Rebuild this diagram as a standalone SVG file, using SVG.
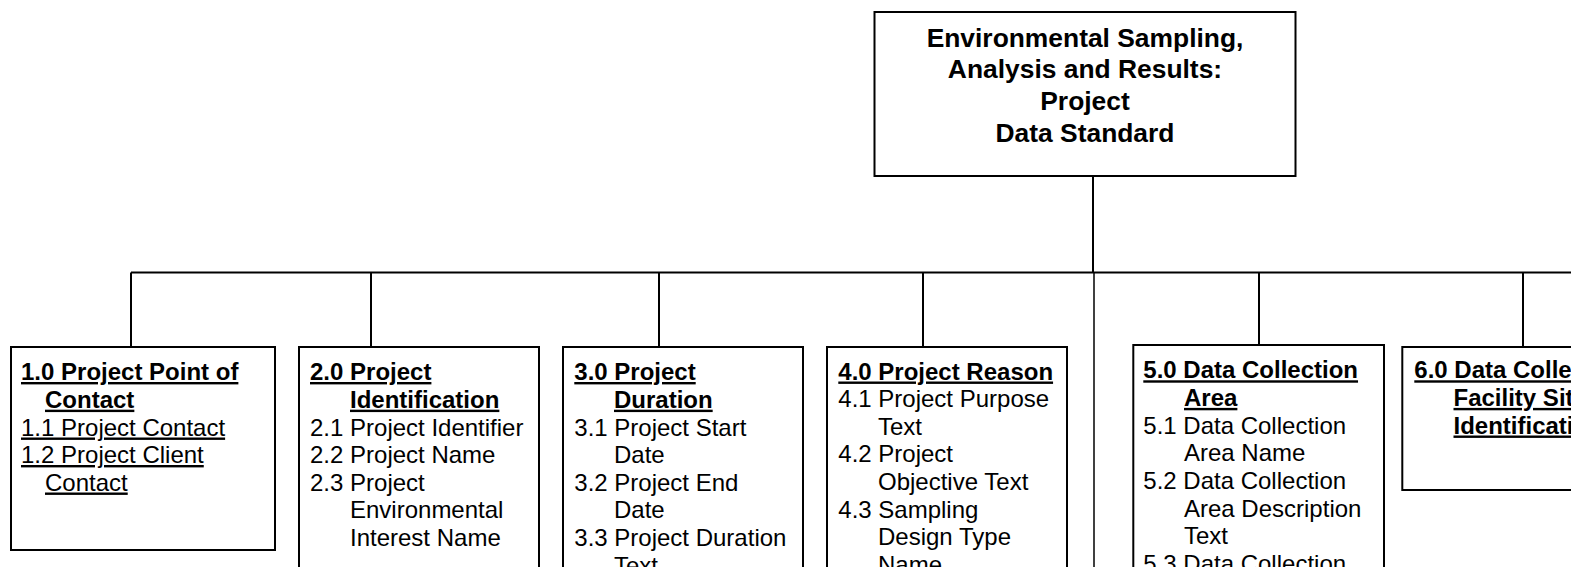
<svg xmlns="http://www.w3.org/2000/svg" width="1571" height="567" viewBox="0 0 1571 567">
<style>
.box{fill:#fff;stroke:#000;stroke-width:2}
.c{stroke:#000;stroke-width:2;fill:none}
.t{font-family:"Liberation Sans",Arial,sans-serif;font-size:24px;fill:#000}
.b{font-weight:bold}
.u{text-decoration:underline}
.title{font-family:"Liberation Sans",Arial,sans-serif;font-size:26.4px;font-weight:bold;fill:#000;text-anchor:middle}
</style>
<rect width="1571" height="567" fill="#fff"/>
<g id="connectors">
<line class="c" x1="1093" y1="176" x2="1093" y2="272.5"/>
<line class="c" x1="131" y1="272.5" x2="1571" y2="272.5"/>
<line class="c" x1="131" y1="272.5" x2="131" y2="347"/>
<line class="c" x1="371" y1="272.5" x2="371" y2="347"/>
<line class="c" x1="659" y1="272.5" x2="659" y2="347"/>
<line class="c" x1="923" y1="272.5" x2="923" y2="347"/>
<line class="c" x1="1259" y1="272.5" x2="1259" y2="345"/>
<line class="c" x1="1523" y1="272.5" x2="1523" y2="347"/>
<line x1="1094" y1="272.5" x2="1094" y2="567" stroke="#000" stroke-width="1.5"/>
</g>
<g id="root">
<rect class="box" x="874.5" y="12" width="421" height="164"/>
<text class="title" x="1085" y="46.7">Environmental Sampling,</text>
<text class="title" x="1085" y="78">Analysis and Results:</text>
<text class="title" x="1085" y="110">Project</text>
<text class="title" x="1085" y="141.7">Data Standard</text>
</g>
<g id="node1">
<rect class="box" x="11" y="347" width="264" height="203"/>
<text class="t b u" x="21" y="380">1.0 Project Point of</text>
<text class="t b u" x="45" y="407.7">Contact</text>
<text class="t u" x="21" y="435.5">1.1 Project Contact</text>
<text class="t u" x="21" y="463">1.2 Project Client</text>
<text class="t u" x="45" y="490.5">Contact</text>
</g>
<g id="node2">
<rect class="box" x="299" y="347" width="240" height="260"/>
<text class="t b u" x="310" y="380">2.0 Project</text>
<text class="t b u" x="350" y="407.7">Identification</text>
<text class="t" x="310" y="435.5">2.1 Project Identifier</text>
<text class="t" x="310" y="463">2.2 Project Name</text>
<text class="t" x="310" y="490.7">2.3 Project</text>
<text class="t" x="350" y="518.2">Environmental</text>
<text class="t" x="350" y="546">Interest Name</text>
</g>
<g id="node3">
<rect class="box" x="563" y="347" width="240" height="260"/>
<text class="t b u" x="574.3" y="380">3.0 Project</text>
<text class="t b u" x="614" y="407.7">Duration</text>
<text class="t" x="574.3" y="435.5">3.1 Project Start</text>
<text class="t" x="614" y="463">Date</text>
<text class="t" x="574.3" y="490.7">3.2 Project End</text>
<text class="t" x="614" y="518.2">Date</text>
<text class="t" x="574.3" y="546">3.3 Project Duration</text>
<text class="t" x="614" y="573.5">Text</text>
</g>
<g id="node4">
<rect class="box" x="827" y="347" width="240" height="260"/>
<text class="t b u" x="838.3" y="379.5">4.0 Project Reason</text>
<text class="t" x="838.3" y="407">4.1 Project Purpose</text>
<text class="t" x="878" y="434.8">Text</text>
<text class="t" x="838.3" y="462.3">4.2 Project</text>
<text class="t" x="878" y="490">Objective Text</text>
<text class="t" x="838.3" y="517.7">4.3 Sampling</text>
<text class="t" x="878" y="545.4">Design Type</text>
<text class="t" x="878" y="573">Name</text>
</g>
<g id="node5">
<rect class="box" x="1133.3" y="345" width="250.7" height="260"/>
<text class="t b u" x="1143.3" y="378.3">5.0 Data Collection</text>
<text class="t b u" x="1184" y="405.9">Area</text>
<text class="t" x="1143.3" y="433.6">5.1 Data Collection</text>
<text class="t" x="1184" y="461.2">Area Name</text>
<text class="t" x="1143.3" y="489">5.2 Data Collection</text>
<text class="t" x="1184" y="516.5">Area Description</text>
<text class="t" x="1184" y="544.2">Text</text>
<text class="t" x="1143.3" y="571.8">5.3 Data Collection</text>
</g>
<g id="node6">
<rect class="box" x="1402.3" y="347" width="250" height="143"/>
<text class="t b u" x="1414.3" y="378.3">6.0 Data Collection</text>
<text class="t b u" x="1453.5" y="405.9">Facility Site</text>
<text class="t b u" x="1453.5" y="433.5">Identification</text>
</g>
</svg>
